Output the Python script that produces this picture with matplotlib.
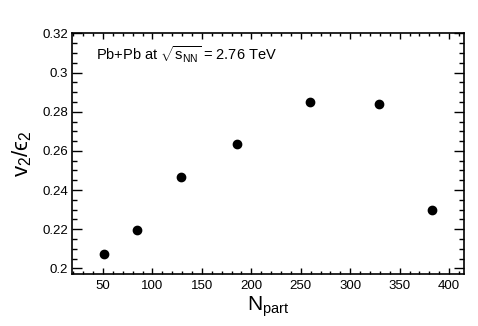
import matplotlib
matplotlib.use("Agg")
import matplotlib.pyplot as plt
from matplotlib.ticker import MultipleLocator

# -----------------------------------------------------------------------------
# Data
# -----------------------------------------------------------------------------
npart = [51.5, 84.7, 128.4, 185.4, 259.7, 329.4, 382.6]
v2_over_e2 = [0.2071, 0.2194, 0.2467, 0.2635, 0.2851, 0.2838, 0.2300]

x_ticks = [50, 100, 150, 200, 250, 300, 350, 400]
y_ticks = [0.2, 0.22, 0.24, 0.26, 0.28, 0.3, 0.32]
y_tick_labels = ["0.2", "0.22", "0.24", "0.26", "0.28", "0.3", "0.32"]

plt.rcParams["font.family"] = ["Liberation Sans", "DejaVu Sans"]
plt.rcParams["mathtext.fontset"] = "custom"
plt.rcParams["mathtext.rm"] = "Liberation Sans"
plt.rcParams["mathtext.it"] = "Liberation Sans"  # upright symbols, like ROOT

fig = plt.figure(figsize=(4.78, 3.26), dpi=100)
ax = fig.add_axes([0.1506, 0.1595, 0.8191, 0.7384])

ax.plot(npart, v2_over_e2, "o", color="black", markersize=6)

ax.set_xlim(18.7, 414.5)
ax.set_ylim(0.1971, 0.3201)

ax.set_xticks(x_ticks)
ax.set_yticks(y_ticks)
ax.set_yticklabels(y_tick_labels)
ax.xaxis.set_minor_locator(MultipleLocator(10))
ax.yaxis.set_minor_locator(MultipleLocator(0.005))

# ROOT-style ticks: inward, on every side
ax.tick_params(axis="both", which="both", direction="in",
               top=True, right=True, labelsize=9.5, width=1)
ax.tick_params(axis="x", which="major", length=4.5, pad=4)
ax.tick_params(axis="x", which="minor", length=2.2)
ax.tick_params(axis="y", which="major", length=7, pad=3)
ax.tick_params(axis="y", which="minor", length=3.6)
for spine in ax.spines.values():
    spine.set_linewidth(1.2)

ax.set_xlabel(r"N$_{\mathrm{part}}$", fontsize=15, labelpad=2)
# lunate epsilon as plain text so it falls back to DejaVu Sans
ax.set_ylabel("v$_2$/\u03f5$_2$", fontsize=16, labelpad=6)

ax.text(0.062, 0.91, r"Pb+Pb at $\sqrt{\mathrm{s}_{\mathrm{NN}}}$ = 2.76 TeV",
        transform=ax.transAxes, fontsize=10.5, va="center")

plt.savefig("out.png", dpi=100)
plt.close()
